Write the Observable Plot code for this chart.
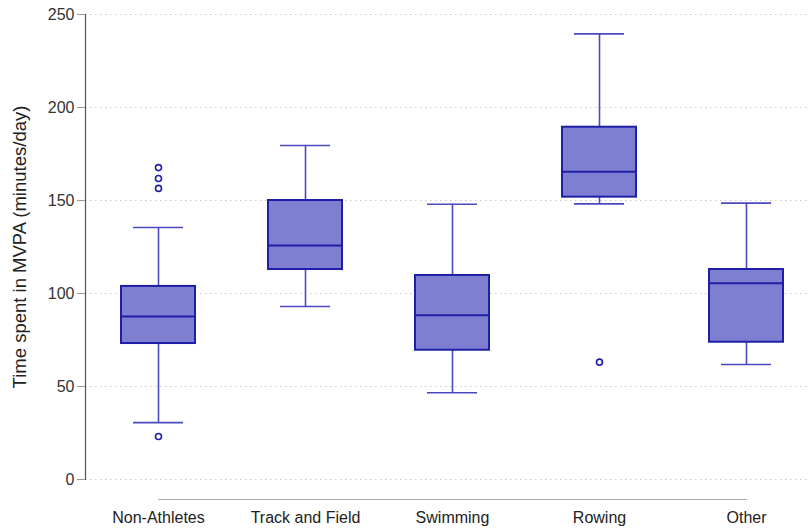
<!DOCTYPE html>
<html><head><meta charset="utf-8">
<script src="https://cdn.jsdelivr.net/npm/d3@7"></script>
<script src="https://cdn.jsdelivr.net/npm/@observablehq/plot@0.6"></script>
<style>body{margin:0;background:#fff;font-family:"Liberation Sans",Arial,sans-serif}</style>
</head><body><div id="chart"></div>
<script>
const categories = ["Non-Athletes","Track and Field","Swimming","Rowing","Other"];
const lowerWhisker = [30.6, 93, 46.6, 148.2, 61.8];
const q1 = [73.1, 112.9, 69.5, 151.8, 73.8];
const median = [87.6, 125.8, 88.3, 165.4, 105.5];
const q3 = [103.8, 150, 109.7, 189.4, 112.9];
const upperWhisker = [135.5, 179.6, 148, 239.6, 148.6];
const outlierGroup = ["Non-Athletes","Non-Athletes","Non-Athletes","Non-Athletes","Rowing"];
const outlierValue = [167.7, 161.8, 156.5, 23.1, 63.1];
const yTicks = [0, 50, 100, 150, 200, 250];
const yLabel = "Time spent in MVPA (minutes/day)";

const stats = categories.map((c, i) => ({cat: c, lo: lowerWhisker[i], q1: q1[i], med: median[i], q3: q3[i], hi: upperWhisker[i]}));
const outliers = outlierGroup.map((g, i) => ({cat: g, v: outlierValue[i]}));
const axisEnds = [{cat: categories[0]}, {cat: categories[categories.length - 1]}];

const boxFill = "#7f7fd2";
const boxStroke = "#1e1ea6";
const whisk = "#4a4ac0";

const chart = Plot.plot({
  width: 810,
  height: 529,
  marginLeft: 85,
  marginRight: 0,
  marginTop: 14,
  marginBottom: 50,
  style: {fontFamily: "'Liberation Sans', Arial, sans-serif", fontSize: "16px", color: "#333", background: "#fff"},
  x: {domain: categories, range: [83.25, 820.75], paddingInner: 0.5, paddingOuter: 0.25},
  y: {domain: [0, 250]},
  marks: [
    Plot.gridY(yTicks, {stroke: "#c8c8c8", strokeOpacity: 1, strokeDasharray: "1.5,3.5"}),
    Plot.ruleX(stats, {x: "cat", y1: "lo", y2: "q1", stroke: whisk, strokeWidth: 1.6}),
    Plot.ruleX(stats, {x: "cat", y1: "q3", y2: "hi", stroke: whisk, strokeWidth: 1.6}),
    Plot.tickY(stats, {x: "cat", y: "lo", stroke: whisk, strokeWidth: 1.6, insetLeft: 12, insetRight: 12}),
    Plot.tickY(stats, {x: "cat", y: "hi", stroke: whisk, strokeWidth: 1.6, insetLeft: 12, insetRight: 12}),
    Plot.barY(stats, {x: "cat", y1: "q1", y2: "q3", fill: boxFill, stroke: boxStroke, strokeWidth: 2}),
    Plot.tickY(stats, {x: "cat", y: "med", stroke: boxStroke, strokeWidth: 2}),
    Plot.dot(outliers, {x: "cat", y: "v", r: 3, stroke: boxStroke, strokeWidth: 1.6, fill: "white"}),
    Plot.lineY(axisEnds, {x: "cat", y: () => 0, dy: 20, stroke: "#aaa", strokeWidth: 1.2}),
    Plot.frame({anchor: "left", stroke: "#555", strokeWidth: 1.2}),
    Plot.axisY(yTicks, {tickSize: 8, tickPadding: 3, stroke: "#999", fontSize: 16, fill: "#333", label: null}),
    Plot.text([yLabel], {frameAnchor: "left", textAnchor: "middle", rotate: -90, dx: -65, fontSize: 18.5, fill: "#222"}),
    Plot.axisX({tickSize: 0, tickPadding: 32, fontSize: 16, fill: "#222", label: null})
  ]
});
document.getElementById("chart").append(chart);
</script>
</body></html>
